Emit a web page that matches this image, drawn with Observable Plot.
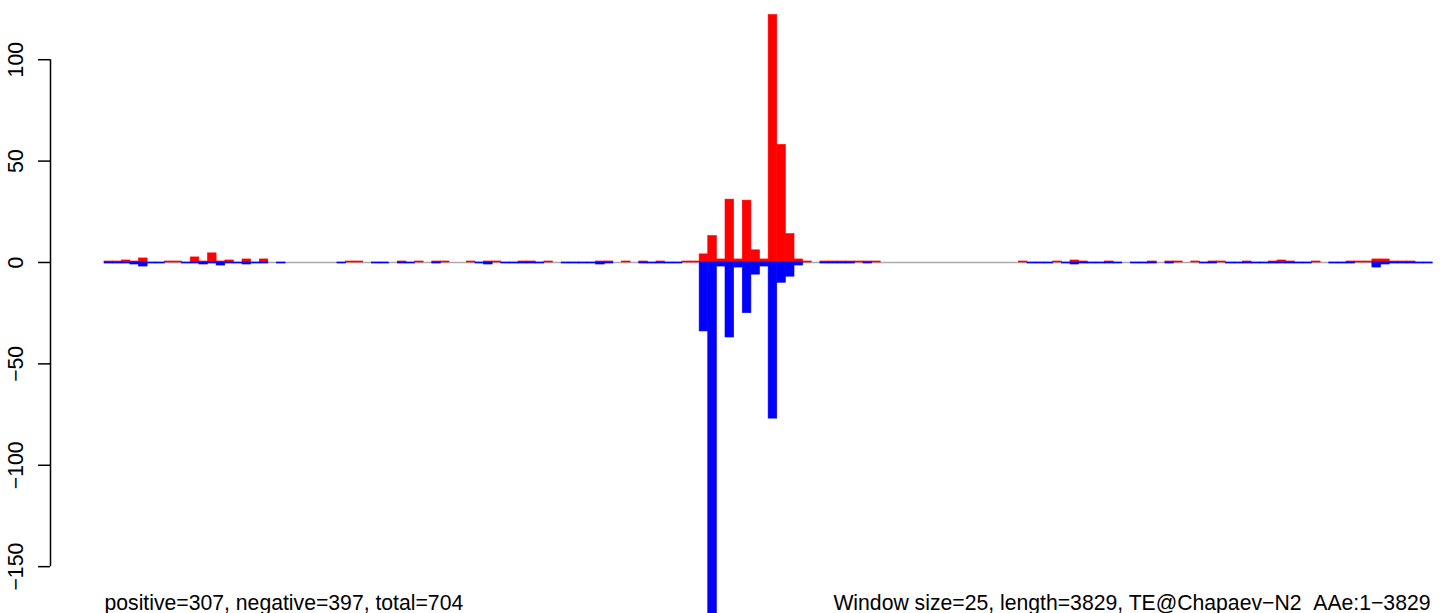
<!DOCTYPE html>
<html><head><meta charset="utf-8">
<script src="https://cdn.jsdelivr.net/npm/d3@7"></script>
<script src="https://cdn.jsdelivr.net/npm/@observablehq/plot@0.6"></script>
<style>html,body{margin:0;padding:0;background:#fff;} svg{display:block}</style>
</head><body><div id="chart"></div>
<script>
const windowSize = 25;
const seqLength = 3829;
const t = 0.5;   // tiny (near-zero) window value
const N = null;  // no bar in this window

// positive counts per 25-bp window (154 windows)
const positive = [
  t, t, 1, t, 2, N, N, t, t, N,
  2.5, t, 4.5, t, 1, N, 1.5, N, 1.5, N,
  N, N, N, N, N, N, N, N, t, t,
  N, N, N, N, t, N, t, N, t, t,
  N, N, t, N, t, t, N, N, t, t,
  N, t, N, N, N, N, N, t, t, N,
  t, N, t, N, t, N, N, t, t, 4,
  13, 1.5, 31, 1.5, 30.5, 6, 1.5, 122, 58, 14,
  1.5, t, N, t, t, t, t, t, t, t,
  N, N, N, N, N, N, N, N, N, N,
  N, N, N, N, N, N, t, N, N, N,
  t, N, 1, t, N, N, t, N, N, N,
  N, t, N, t, t, N, t, N, t, t,
  N, N, t, N, N, t, 1, t, N, N,
  t, N, N, N, t, t, t, 1.5, 1.5, t,
  t, t, N, N
];
// negative counts per 25-bp window
const negative = [
  -t, -t, -t, -1, -2, -t, -t, N, N, -t,
  -t, -1, -t, -1.5, -t, -t, -1, -t, -t, N,
  -t, N, N, N, N, N, N, -t, N, N,
  N, -t, -t, N, -t, -t, N, N, -t, N,
  N, N, N, -t, -1, N, -t, -t, -t, -t,
  -t, N, N, -t, -t, -t, -t, -1, -t, N,
  N, N, -t, -t, -t, -t, -t, N, N, -34,
  -180, -2, -37, -2.5, -25, -6, -2, -77, -10, -7,
  -1.5, N, N, -t, -t, -t, -t, N, -t, N,
  N, N, N, N, N, N, N, N, N, N,
  N, N, N, N, N, N, N, -t, -t, -t,
  N, -t, -1, -t, -t, -t, -t, -t, N, -t,
  -t, -t, N, -t, N, N, N, -t, -t, N,
  -t, -t, -t, -t, -t, -t, -t, -t, -t, -t,
  N, N, -t, -t, -t, N, N, -2.5, -1, -t,
  -t, -t, -t, -t
];
const yTicks = [-150, -100, -50, 0, 50, 100];
const bottomLeftText = "positive=307, negative=397, total=704";
const bottomRightText = "Window size=25, length=3829, TE@Chapaev\u2212N2_AAe:1\u22123829";

const windows = positive.map((p, i) => ({start: i * windowSize, end: (i + 1) * windowSize, pos: p, neg: negative[i]}));
const xEnd = windows.length * windowSize;
const xLeft = -156.5;
const axisLine = [{y1: d3.min(yTicks), y2: d3.max(yTicks)}];
const fmt = d => d < 0 ? "\u2212" + Math.abs(d) : String(d);
const fs = 21.2;

const chart = Plot.plot({
  width: 1444, height: 613,
  marginLeft: 50, marginRight: 0, marginTop: 0, marginBottom: 0,
  x: {domain: [xLeft, 3884], axis: null},
  y: {domain: [-173.1, 129.2], axis: null},
  style: {fontFamily: "'Liberation Sans', Arial, Helvetica, sans-serif", fontSize: fs + "px", background: "#fff", color: "#000"},
  marks: [
    Plot.ruleY([0], {x1: 0, x2: xEnd, stroke: "#aaaaaa", strokeWidth: 1.5}),
    Plot.rectY(windows, {filter: d => d.pos != null, x1: "start", x2: "end", y1: 0, y2: "pos", fill: "#ff0000", stroke: "#ff0000", strokeWidth: 0.6, clip: true}),
    Plot.rectY(windows, {filter: d => d.neg != null, x1: "start", x2: "end", y1: 0, y2: "neg", fill: "#0000ff", stroke: "#0000ff", strokeWidth: 0.6, clip: true}),
    Plot.axisY({ticks: yTicks, tickSize: 12, tickPadding: 16, tickRotate: -90, tickFormat: fmt, strokeWidth: 1.5, label: null, fontSize: fs}),
    Plot.ruleX(axisLine, {x: xLeft, y1: "y1", y2: "y2", stroke: "#000", strokeWidth: 1.5}),
    Plot.text([bottomLeftText], {text: d => d, frameAnchor: "bottom-left", textAnchor: "start", lineAnchor: "middle", dx: 54, dy: -10, fontSize: fs}),
    Plot.text([bottomRightText], {text: d => d, frameAnchor: "bottom-right", textAnchor: "end", lineAnchor: "middle", dx: -14, dy: -10, fontSize: fs})
  ]
});
document.getElementById("chart").appendChild(chart);
</script>
</body></html>
